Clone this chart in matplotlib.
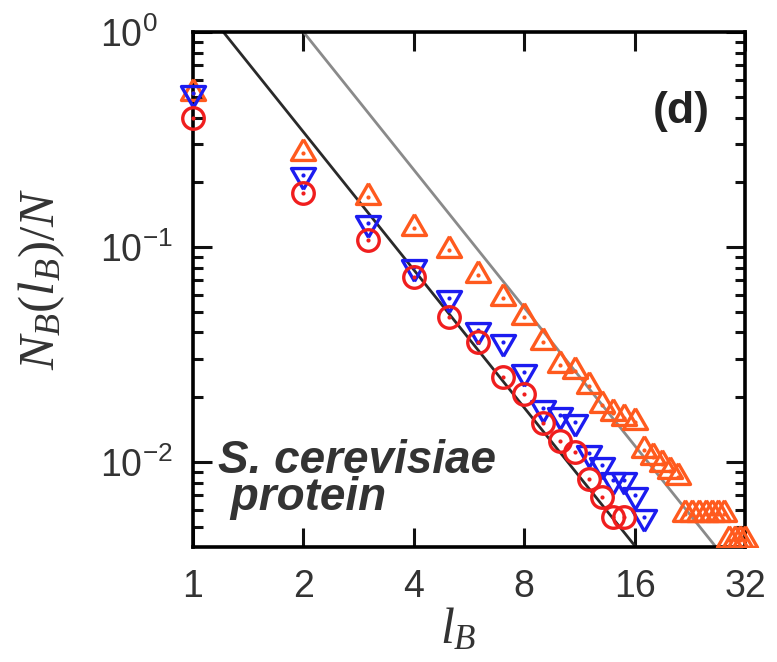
import numpy as np
import matplotlib
matplotlib.use("Agg")
import matplotlib.pyplot as plt
from matplotlib.patches import Rectangle
from matplotlib.ticker import FixedLocator, NullLocator, LogLocator, NullFormatter

# box size l_B and fraction of boxes N_B(l_B)/N for three covering methods
lb_red = [1, 2, 3, 4, 5, 6, 7, 8, 9, 10, 11, 12, 13, 14, 15]
nb_red = [0.40, 0.178, 0.108, 0.0725, 0.0472, 0.0361, 0.0248, 0.0207, 0.0152,
          0.0125, 0.0111, 0.00833, 0.00687, 0.00555, 0.00555]

lb_blue = [1, 2, 3, 4, 5, 6, 7, 8, 9, 10, 11, 12, 13, 14, 15, 16, 17]
nb_blue = [0.52, 0.216, 0.129, 0.0807, 0.0579, 0.0411, 0.0361, 0.0262, 0.0178,
           0.0165, 0.0153, 0.0110, 0.00968, 0.00824, 0.00824, 0.00703, 0.00555]

lb_orange = list(range(1, 33))
nb_orange = [0.52, 0.274, 0.171, 0.123, 0.0969, 0.0741, 0.0579, 0.0472, 0.0361,
             0.0282, 0.0265, 0.0226, 0.0184, 0.0169, 0.0160, 0.0153, 0.0114,
             0.0105, 0.0098, 0.0091, 0.0085, 0.00573, 0.00573, 0.00573, 0.00573,
             0.00573, 0.00573, 0.00573, 0.00434, 0.00434, 0.00434, 0.00434]

# power-law guides N_B/N = A * l_B^(-d_B)
fit_exponent = 2.13
fit_prefactors = [1.50, 4.38]
fit_colors = ["#2a2a2a", "#8a8a8a"]

x_ticks = [1, 2, 4, 8, 16, 32]
x_ticklabels = ["1", "2", "4", "8", "16", "32"]
y_ticks = [1e-2, 1e-1, 1e0]
y_ticklabels = ["10^{-2}", "10^{-1}", "10^{0}"]

plt.rcParams["mathtext.fontset"] = "custom"
plt.rcParams["mathtext.rm"] = "Liberation Serif"
plt.rcParams["mathtext.it"] = "Liberation Serif:italic"
plt.rcParams["mathtext.sf"] = "Liberation Sans"
plt.rcParams["font.family"] = ["Liberation Sans", "DejaVu Sans"]

fig = plt.figure(figsize=(7.77, 6.62), dpi=100)
ax = fig.add_axes([0.2484, 0.1737, 0.7104, 0.778])
ax.set_xscale("log", base=2)
ax.set_yscale("log")
ax.set_xlim(1, 32)
ax.set_ylim(0.00402, 1.0)

clip = Rectangle((-0.1, 0.0), 1.2, 1.1, transform=ax.transAxes)

xs = np.array([1.0, 32.0])
for a, c in zip(fit_prefactors, fit_colors):
    ax.plot(xs, a * xs ** (-fit_exponent), color=c, lw=2.0, zorder=2)

tri_up = [(0, 0.577), (-0.5, -0.289), (0.5, -0.289), (0, 0.577)]
tri_dn = [(0, -0.577), (-0.5, 0.289), (0.5, 0.289), (0, -0.577)]

series = [
    (lb_orange, nb_orange, "#ff5a1e", tri_up, 20),
    (lb_blue, nb_blue, "#1c1cf0", tri_dn, 20),
    (lb_red, nb_red, "#f01e1e", "o", 15.5),
]
for lb, nb, col, mk, ms in series:
    ln, = ax.plot(lb, nb, ls="none", marker=mk, ms=ms, mfc="none", mec=col,
                  mew=2.4, zorder=3)
    ln.set_clip_path(clip)
    dots, = ax.plot(lb, nb, ls="none", marker="o", ms=3.0, mfc=col, mec=col,
                    mew=0, zorder=3)
    dots.set_clip_path(clip)

ax.xaxis.set_major_locator(FixedLocator(x_ticks))
ax.xaxis.set_minor_locator(NullLocator())
ax.set_xticklabels(x_ticklabels)
ax.yaxis.set_major_locator(FixedLocator(y_ticks))
ax.yaxis.set_minor_locator(LogLocator(base=10, subs=np.arange(2, 10)))
ax.yaxis.set_minor_formatter(NullFormatter())
ax.set_yticklabels([r"$\mathsf{%s}$" % s for s in y_ticklabels])

for s in ax.spines.values():
    s.set_linewidth(2.6)
ax.tick_params(which="both", direction="in", top=True, right=True, width=2.2,
               colors="#111111", labelcolor="#333333")
ax.tick_params(which="major", length=14, labelsize=27)
ax.tick_params(axis="x", which="major", pad=16)
ax.tick_params(axis="y", which="major", pad=67)
ax.tick_params(which="minor", length=7)
for lab in ax.get_yticklabels():
    lab.set_horizontalalignment("left")

ax.set_xlabel(r"$l_B$", fontsize=36, color="#333333")
ax.xaxis.set_label_coords(0.48, -0.115, transform=ax.transAxes)
ax.xaxis.label.set_va("top")
ax.set_ylabel(r"$N_B(l_B)/N$", fontsize=37, color="#333333")
ax.yaxis.set_label_coords(-0.228, 0.52, transform=ax.transAxes)

ax.text(0.884, 0.845, "(d)", transform=ax.transAxes, fontsize=32,
        fontweight="bold", color="#222222", ha="center", va="center")
ax.text(0.045, 0.072, "S. cerevisiae\n protein", transform=ax.transAxes,
        fontsize=33, fontweight="bold", fontstyle="italic", color="#333333",
        ha="left", va="baseline", linespacing=0.8)

fig.savefig("out.png", dpi=100)
